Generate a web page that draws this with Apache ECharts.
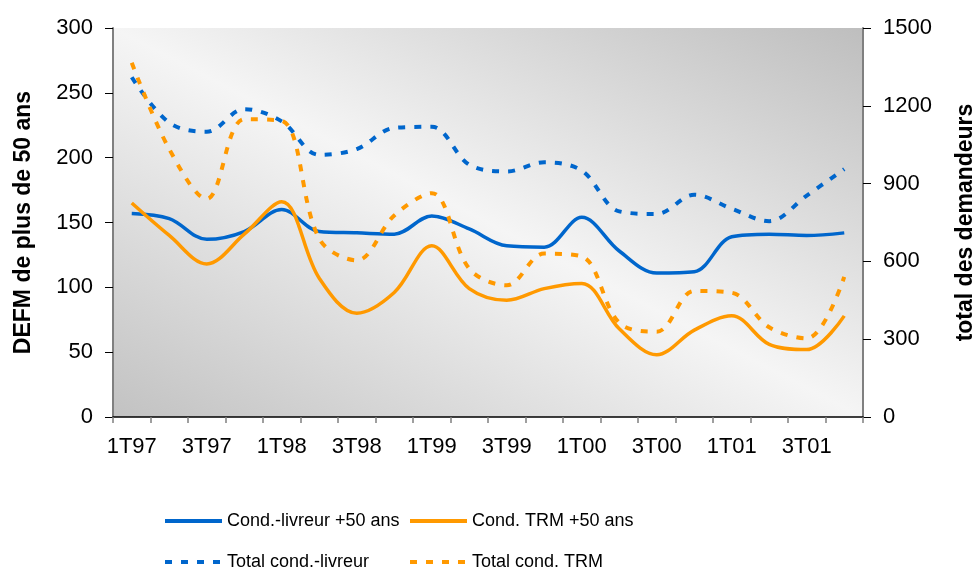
<!DOCTYPE html>
<html>
<head>
<meta charset="utf-8">
<script src="https://cdn.jsdelivr.net/npm/echarts@6/dist/echarts.min.js"></script>
<style>
  html, body { margin: 0; padding: 0; background: #fff; }
  #chart { width: 973px; height: 569px; }
</style>
</head>
<body>
<div id="chart"></div>
<script>
// trimestres 1T97 .. 4T01
var quarters = ['1T97','2T97','3T97','4T97','1T98','2T98','3T98','4T98','1T99','2T99',
                '3T99','4T99','1T00','2T00','3T00','4T00','1T01','2T01','3T01','4T01'];

// DEFM de plus de 50 ans (axe de gauche)
var livreur50 = [157, 153, 137, 143, 160, 143, 142, 141, 155, 145, 132, 131, 154, 128, 111, 112, 139, 141, 140, 142];
var trm50     = [165, 140, 118, 141, 166, 107, 80, 96, 132, 99, 90, 99, 103, 68, 48, 67, 78, 56, 52, 78];

// total des demandeurs (axe de droite)
var totalLivreur = [1310, 1135, 1100, 1187, 1140, 1011, 1033, 1115, 1119, 973, 947, 982, 950, 793, 783, 857, 803, 755, 854, 956];
var totalTrm     = [1366, 1033, 841, 1148, 1142, 687, 604, 777, 863, 572, 508, 630, 619, 363, 329, 486, 479, 346, 303, 540];

var leftTicks = [0, 300, 50];
var rightTicks = [0, 1500, 300];

(function() {
    var chart = echarts.init(document.getElementById('chart'));
    var BLUE = '#0066cc', ORANGE = '#ff9900';
    var font = 'Liberation Sans, Arial, sans-serif';

    function legendAt(name, left, top) {
        return {
            left: left, top: top,
            itemWidth: 57, itemHeight: 14,
            itemStyle: { opacity: 0 },
            lineStyle: { width: 4 },
            textStyle: { fontSize: 18, color: '#000', fontFamily: font },
            data: [name]
        };
    }

    var option = {
        animation: false,
        textStyle: { fontFamily: font },
        grid: {
            left: 113, right: 110, top: 28, bottom: 152,
            outerBoundsMode: 'none',
            containLabel: false,
            show: true,
            borderWidth: 0,
            backgroundColor: new echarts.graphic.LinearGradient(0.288, 1.288, 0.712, -0.288, [
                { offset: 0, color: '#c2c2c2' },
                { offset: 0.5, color: '#f5f5f5' },
                { offset: 1, color: '#bebebe' }
            ])
        },
        legend: [
            legendAt('Cond.-livreur +50 ans', 158, 507),
            legendAt('Cond. TRM +50 ans', 403, 507),
            legendAt('Total cond.-livreur', 158, 548),
            legendAt('Total cond. TRM', 403, 548)
        ],
        xAxis: {
            type: 'category',
            data: quarters,
            boundaryGap: true,
            axisLine: { lineStyle: { color: '#000', width: 1.5 } },
            axisTick: { show: true, interval: 0, length: 6, lineStyle: { color: '#808080', width: 1.5 } },
            axisLabel: { interval: 1, fontSize: 22, color: '#000', margin: 19 },
            splitLine: { show: false }
        },
        yAxis: [
            {
                type: 'value',
                min: leftTicks[0], max: leftTicks[1], interval: leftTicks[2],
                name: 'DEFM de plus de 50 ans',
                nameLocation: 'middle', nameGap: 78, nameRotate: 90,
                nameTextStyle: { fontSize: 23, fontWeight: 'bold', color: '#000' },
                axisLine: { show: true, lineStyle: { color: '#808080', width: 2 } },
                axisTick: { show: true, length: 8, lineStyle: { color: '#000' } },
                axisLabel: { fontSize: 22, color: '#000', margin: 20 },
                splitLine: { show: false }
            },
            {
                type: 'value',
                min: rightTicks[0], max: rightTicks[1], interval: rightTicks[2],
                name: 'total des demandeurs',
                nameLocation: 'middle', nameGap: 91, nameRotate: 90,
                nameTextStyle: { fontSize: 23, fontWeight: 'bold', color: '#000' },
                axisLine: { show: true, lineStyle: { color: '#808080', width: 2 } },
                axisTick: { show: true, length: 8, lineStyle: { color: '#000' } },
                axisLabel: { fontSize: 22, color: '#000', margin: 20, formatter: function(v) { return String(v); } },
                splitLine: { show: false }
            }
        ],
        series: [
            {
                name: 'Cond.-livreur +50 ans', type: 'line', yAxisIndex: 0,
                data: livreur50, smooth: 0.35, symbol: 'none',
                lineStyle: { color: BLUE, width: 3.5 }, itemStyle: { color: BLUE }
            },
            {
                name: 'Cond. TRM +50 ans', type: 'line', yAxisIndex: 0,
                data: trm50, smooth: 0.35, symbol: 'none',
                lineStyle: { color: ORANGE, width: 3.5 }, itemStyle: { color: ORANGE }
            },
            {
                name: 'Total cond.-livreur', type: 'line', yAxisIndex: 1,
                data: totalLivreur, smooth: 0.35, symbol: 'none',
                lineStyle: { color: BLUE, width: 4, type: [7, 9] }, itemStyle: { color: BLUE }
            },
            {
                name: 'Total cond. TRM', type: 'line', yAxisIndex: 1,
                data: totalTrm, smooth: 0.35, symbol: 'none',
                lineStyle: { color: ORANGE, width: 4, type: [7, 9] }, itemStyle: { color: ORANGE }
            }
        ]
    };
    chart.setOption(option);
})();
</script>
</body>
</html>
